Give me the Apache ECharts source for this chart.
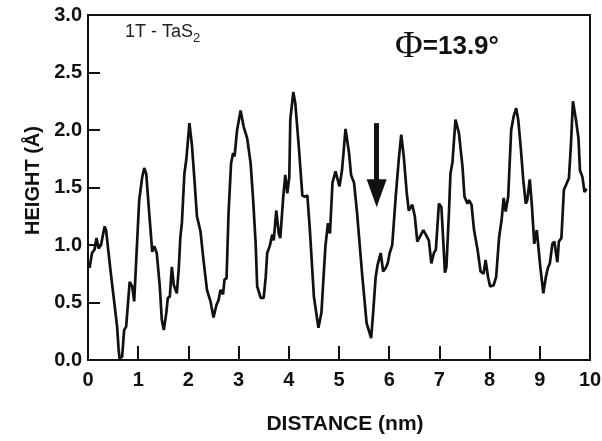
<!DOCTYPE html>
<html>
<head>
<meta charset="utf-8">
<script src="https://cdn.jsdelivr.net/npm/echarts@6/dist/echarts.min.js"></script>
<style>
  html, body { margin: 0; padding: 0; background: #fff; }
  #main { width: 602px; height: 441px; }
</style>
</head>
<body>
<div id="main"></div>
<script>
// profile: distance (nm) / height (Å)
var distance = [
  0.03, 0.08, 0.13, 0.17, 0.21, 0.26, 0.33, 0.36, 0.44, 0.51, 0.58, 0.61, 0.63, 0.68, 0.72, 0.76,
  0.83, 0.88, 0.92, 0.98, 1.02, 1.08, 1.12, 1.16, 1.21, 1.28, 1.32, 1.37, 1.43, 1.47, 1.51, 1.56,
  1.59, 1.63, 1.67, 1.71, 1.77, 1.81, 1.84, 1.87, 1.92, 1.96, 2.02, 2.07, 2.12, 2.17, 2.24, 2.30,
  2.37, 2.44, 2.50, 2.56, 2.60, 2.64, 2.69, 2.72, 2.76, 2.80, 2.85, 2.89, 2.92, 2.97, 3.04, 3.10,
  3.17, 3.24, 3.29, 3.34, 3.37, 3.44, 3.50, 3.54, 3.57, 3.62, 3.67, 3.70, 3.75, 3.80, 3.83, 3.89,
  3.93, 3.97, 4.01, 4.03, 4.09, 4.13, 4.20, 4.27, 4.31, 4.37, 4.42, 4.50, 4.59, 4.65, 4.70, 4.73,
  4.78, 4.82, 4.87, 4.93, 5.01, 5.06, 5.13, 5.20, 5.24, 5.30, 5.36, 5.46, 5.55, 5.64, 5.68, 5.73,
  5.77, 5.83, 5.88, 5.93, 5.97, 6.01, 6.06, 6.13, 6.19, 6.24, 6.29, 6.35, 6.39, 6.46, 6.51, 6.56,
  6.61, 6.68, 6.73, 6.79, 6.84, 6.89, 6.93, 6.99, 7.04, 7.08, 7.11, 7.14, 7.19, 7.22, 7.26, 7.32,
  7.39, 7.46, 7.50, 7.56, 7.59, 7.64, 7.69, 7.76, 7.82, 7.88, 7.92, 7.97, 8.01, 8.08, 8.13, 8.19,
  8.24, 8.28, 8.32, 8.37, 8.43, 8.48, 8.53, 8.57, 8.62, 8.67, 8.72, 8.75, 8.80, 8.84, 8.89, 8.94,
  8.97, 9.01, 9.07, 9.12, 9.16, 9.20, 9.25, 9.29, 9.35, 9.38, 9.43, 9.48, 9.52, 9.58, 9.62, 9.66,
  9.72, 9.77, 9.80, 9.85, 9.89, 9.93
];
var height = [
  0.80, 0.93, 0.96, 1.06, 0.97, 1.00, 1.16, 1.13, 0.81, 0.55, 0.29, 0.09, 0.01, 0.03, 0.26, 0.29,
  0.68, 0.64, 0.51, 1.04, 1.39, 1.59, 1.67, 1.62, 1.33, 0.94, 0.99, 0.93, 0.64, 0.35, 0.26, 0.41,
  0.54, 0.55, 0.81, 0.65, 0.58, 0.81, 1.07, 1.19, 1.62, 1.75, 2.06, 1.87, 1.57, 1.25, 1.12, 0.87,
  0.61, 0.51, 0.37, 0.48, 0.52, 0.61, 0.57, 0.70, 0.71, 1.28, 1.71, 1.80, 1.77, 2.00, 2.17, 2.03,
  1.93, 1.71, 1.39, 1.01, 0.64, 0.54, 0.54, 0.72, 0.93, 0.99, 1.09, 1.04, 1.30, 1.10, 1.06, 1.42,
  1.61, 1.45, 1.59, 2.09, 2.33, 2.23, 1.85, 1.43, 1.42, 1.43, 1.13, 0.55, 0.28, 0.41, 0.78, 0.99,
  1.19, 1.10, 1.54, 1.64, 1.51, 1.65, 2.01, 1.80, 1.61, 1.54, 1.28, 0.75, 0.32, 0.19, 0.41, 0.72,
  0.83, 0.93, 0.77, 0.80, 0.84, 0.93, 1.00, 1.42, 1.74, 1.96, 1.77, 1.45, 1.30, 1.35, 1.25, 1.03,
  1.07, 1.13, 1.09, 1.04, 0.84, 0.93, 0.96, 1.36, 1.33, 1.01, 0.76, 0.81, 1.28, 1.62, 1.72, 2.09,
  1.97, 1.68, 1.42, 1.36, 1.39, 1.35, 1.13, 0.96, 0.77, 0.75, 0.87, 0.72, 0.64, 0.65, 0.72, 1.07,
  1.22, 1.41, 1.29, 1.42, 2.00, 2.12, 2.19, 2.09, 1.85, 1.57, 1.36, 1.39, 1.57, 1.36, 1.01, 1.13,
  0.99, 0.81, 0.58, 0.72, 0.80, 0.84, 1.01, 1.03, 0.85, 1.03, 1.06, 1.48, 1.52, 1.58, 1.87, 2.25,
  2.09, 1.93, 1.65, 1.59, 1.46, 1.49
];
// arrow annotation (distance, height from -> to)
var arrowFrom = [5.75, 2.06];
var arrowTo = [5.75, 1.45];

var points = [];
for (var i = 0; i < distance.length; i++) {
    points.push([distance[i], height[i]]);
}

var myChart = echarts.init(document.getElementById('main'));

var option = {
    backgroundColor: '#fff',
    animation: false,
    grid: {
        left: 88, right: 12, top: 15, bottom: 81,
        outerBoundsMode: 'none',
        show: true, borderColor: '#111', borderWidth: 2
    },
    xAxis: {
        type: 'value',
        min: 0, max: 10, interval: 1,
        name: 'DISTANCE (nm)',
        nameLocation: 'middle',
        nameGap: 54,
        nameTextStyle: { color: '#111', fontFamily: 'Liberation Sans', fontSize: 21, fontWeight: 'bold', padding: [0, 0, 0, 12] },
        axisLine: { lineStyle: { color: '#111', width: 2 } },
        axisTick: { inside: true, length: 14, lineStyle: { color: '#111', width: 2 } },
        axisLabel: { color: '#111', fontFamily: 'Liberation Sans', fontSize: 20, fontWeight: 'bold', margin: 10 },
        splitLine: { show: false }
    },
    yAxis: {
        type: 'value',
        min: 0, max: 3, interval: 0.5,
        name: 'HEIGHT (Å)',
        nameLocation: 'middle',
        nameGap: 43,
        nameTextStyle: { color: '#111', fontFamily: 'Liberation Sans', fontSize: 20, fontWeight: 'bold', padding: [0, 0, 0, 14] },
        axisLine: { show: true, lineStyle: { color: '#111', width: 2 } },
        axisTick: { show: true, inside: true, length: 12, lineStyle: { color: '#111', width: 2 } },
        axisLabel: {
            color: '#111', fontFamily: 'Liberation Sans', fontSize: 20, fontWeight: 'bold', margin: 6,
            formatter: function (v) { return v.toFixed(1); }
        },
        splitLine: { show: false }
    },
    series: [{
        type: 'line',
        data: points,
        showSymbol: false,
        lineStyle: { color: '#111', width: 2.7 },
        markLine: {
            silent: true,
            symbol: ['none', 'triangle'],
            symbolSize: [20, 28],
            label: { show: false },
            lineStyle: { color: '#111', width: 5, type: 'solid' },
            data: [[{ coord: arrowFrom }, { coord: arrowTo }]]
        }
    }],
    graphic: [{
        type: 'text',
        left: 125, top: 23,
        style: {
            text: '1T - TaS{s|2}',
            fill: '#222',
            font: '18px "Liberation Sans"',
            rich: { s: { fontSize: 13, fontFamily: 'Liberation Sans', fill: '#222', padding: [12, 0, 0, 0] } }
        }
    }, {
        type: 'text',
        left: 395, top: 28,
        style: {
            text: '{p|Φ}=13.9°',
            fill: '#111',
            font: 'bold 26px "Liberation Sans"',
            rich: { p: { fontSize: 38, fontFamily: 'Liberation Serif', fill: '#111' } }
        }
    }]
};

myChart.setOption(option);
</script>
</body>
</html>
